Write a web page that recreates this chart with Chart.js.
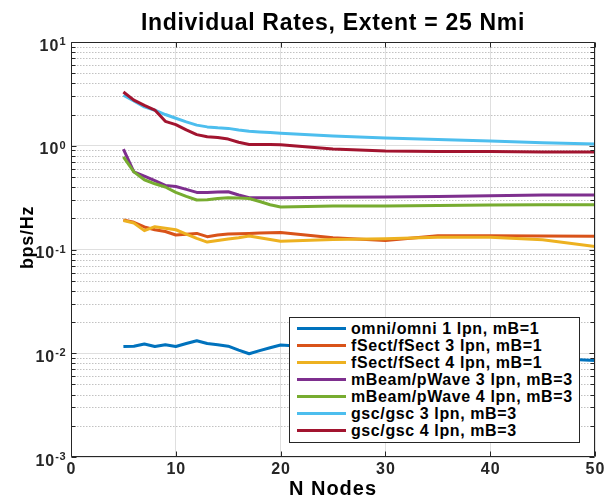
<!DOCTYPE html>
<html>
<head>
<meta charset="utf-8">
<title>Individual Rates</title>
<script src="https://cdn.jsdelivr.net/npm/chart.js@4.4.1/dist/chart.umd.min.js"></script>
<style>
  body { margin: 0; background: #fff; }
  #wrap { position: relative; width: 605px; height: 495px; }
  #legend {
    position: absolute; left: 289px; top: 317px; width: 291px; height: 126px;
    box-sizing: border-box; border: 1px solid #262626; background: #fff;
    padding-top: 2px;
    font: bold 16px "Liberation Sans", Arial, sans-serif; letter-spacing: 0.6px; color: #000;
  }
  #legend .row { display: flex; align-items: center; height: 17px; line-height: 17px; white-space: nowrap; }
  #legend .swatch { width: 49px; height: 3px; margin-left: 7px; margin-right: 5px; }
</style>
</head>
<body>
<div id="wrap">
  <canvas id="rates" width="605" height="495"></canvas>
  <div id="legend"></div>
</div>
<script>
// number of nodes on the x axis
const nodes = [5, 6, 7, 8, 9, 10, 11, 12, 13, 14, 15, 16, 17, 18, 19, 20, 25, 30, 35, 40, 45, 50];

// rate per node, bps/Hz
const omniRate    = [0.0116, 0.0117, 0.0123, 0.0116, 0.0121, 0.0116, 0.0124, 0.0132, 0.0124, 0.0121, 0.0117, 0.0107, 0.0099, 0.0106, 0.0113, 0.0120, 0.0112, 0.0105, 0.0100, 0.0095, 0.0090, 0.0085];
const fSect3Rate  = [0.193, 0.183, 0.165, 0.155, 0.149, 0.138, 0.140, 0.143, 0.133, 0.138, 0.141, 0.142, 0.143, 0.144, 0.145, 0.146, 0.130, 0.122, 0.136, 0.136, 0.135, 0.134];
const fSect4Rate  = [0.190, 0.180, 0.152, 0.166, 0.160, 0.155, 0.141, 0.128, 0.118, 0.122, 0.126, 0.130, 0.135, 0.130, 0.125, 0.120, 0.125, 0.127, 0.131, 0.131, 0.124, 0.107];
const mBeam3Rate  = [0.93, 0.56, 0.51, 0.46, 0.415, 0.405, 0.38, 0.355, 0.355, 0.358, 0.36, 0.335, 0.315, 0.315, 0.315, 0.315, 0.318, 0.32, 0.325, 0.33, 0.335, 0.335];
const mBeam4Rate  = [0.78, 0.56, 0.47, 0.43, 0.40, 0.355, 0.325, 0.30, 0.302, 0.31, 0.315, 0.313, 0.31, 0.29, 0.27, 0.257, 0.262, 0.263, 0.265, 0.268, 0.27, 0.27];
const gsc3Rate    = [3.07, 2.70, 2.37, 2.20, 2.00, 1.84, 1.70, 1.58, 1.52, 1.49, 1.47, 1.42, 1.38, 1.36, 1.34, 1.32, 1.24, 1.19, 1.15, 1.11, 1.07, 1.04];
const gsc4Rate    = [3.30, 2.75, 2.45, 2.21, 1.72, 1.60, 1.42, 1.28, 1.22, 1.20, 1.16, 1.08, 1.03, 1.03, 1.03, 1.02, 0.93, 0.89, 0.88, 0.88, 0.87, 0.87];

const seriesNames = [
  'omni/omni 1 lpn, mB=1',
  'fSect/fSect 3 lpn, mB=1',
  'fSect/fSect 4 lpn, mB=1',
  'mBeam/pWave 3 lpn, mB=3',
  'mBeam/pWave 4 lpn, mB=3',
  'gsc/gsc 3 lpn, mB=3',
  'gsc/gsc 4 lpn, mB=3'
];
const seriesValues = [omniRate, fSect3Rate, fSect4Rate, mBeam3Rate, mBeam4Rate, gsc3Rate, gsc4Rate];
const seriesColors = ['#0072BD', '#D95319', '#EDB120', '#7E2F8E', '#77AC30', '#4DBEEE', '#A2142F'];

const xTicks = [0, 10, 20, 30, 40, 50];
const yTickExponents = [-3, -2, -1, 0, 1];

const FONT = '"Liberation Sans", Arial, sans-serif';
const INK = '#262626';

// axes box, minor grid, tick marks and all text in the MATLAB look
const matlabAxes = {
  id: 'matlabAxes',
  beforeDatasetsDraw(chart) {
    const { ctx, chartArea: a, scales: { y } } = chart;
    ctx.save();
    ctx.strokeStyle = '#c2c2c2';
    ctx.lineWidth = 1;
    ctx.setLineDash([1.5, 1.5]);
    yTickExponents.slice(0, -1).forEach(e => {
      for (let m = 2; m <= 9; m++) {
        const py = Math.round(y.getPixelForValue(m * Math.pow(10, e))) + 0.5;
        ctx.beginPath();
        ctx.moveTo(a.left, py);
        ctx.lineTo(a.right, py);
        ctx.stroke();
      }
    });
    ctx.restore();
  },
  afterDatasetsDraw(chart) {
    const { ctx, chartArea: a, scales: { x, y } } = chart;
    const L = Math.round(a.left) + 0.5, R = Math.round(a.right) - 0.5;
    const T = Math.round(a.top) + 0.5, B = Math.round(a.bottom) - 0.5;
    ctx.save();
    ctx.strokeStyle = INK;
    ctx.lineWidth = 1;
    ctx.beginPath();
    ctx.rect(L, T, R - L, B - T);
    xTicks.forEach(v => {
      const px = Math.round(x.getPixelForValue(v)) + 0.5;
      ctx.moveTo(px, B); ctx.lineTo(px, B - 5);
      ctx.moveTo(px, T); ctx.lineTo(px, T + 5);
    });
    yTickExponents.forEach((e, i) => {
      const last = i === yTickExponents.length - 1;
      for (let m = 1; m <= (last ? 1 : 9); m++) {
        const len = m === 1 ? 5 : 4;
        const py = Math.round(y.getPixelForValue(m * Math.pow(10, e))) + 0.5;
        ctx.moveTo(L, py); ctx.lineTo(L + len, py);
        ctx.moveTo(R, py); ctx.lineTo(R - len, py);
      }
    });
    ctx.stroke();
    ctx.restore();
  },
  afterDraw(chart) {
    const { ctx, chartArea: a, scales: { x, y } } = chart;
    ctx.save();
    ctx.fillStyle = '#000';

    // title
    ctx.letterSpacing = '0.7px';
    ctx.font = 'bold 23px ' + FONT;
    ctx.textAlign = 'center';
    ctx.textBaseline = 'alphabetic';
    ctx.fillText('Individual Rates, Extent = 25 Nmi', (a.left + a.right) / 2, 29.5);

    // x tick labels and axis title
    ctx.fillStyle = INK;
    ctx.letterSpacing = '1px';
    ctx.font = 'bold 16px ' + FONT;
    xTicks.forEach(v => ctx.fillText(String(v), x.getPixelForValue(v) + 0.5, a.bottom + 16.5));
    ctx.fillStyle = '#000';
    ctx.font = 'bold 20px ' + FONT;
    ctx.fillText('N Nodes', (a.left + a.right) / 2, 494.5);

    // y tick labels as 10 with a raised exponent
    ctx.fillStyle = INK;
    ctx.textAlign = 'right';
    yTickExponents.forEach(e => {
      const py = y.getPixelForValue(Math.pow(10, e));
      const exp = String(e);
      ctx.letterSpacing = '0.5px';
      ctx.font = 'bold 11px ' + FONT;
      const ew = ctx.measureText(exp).width;
      ctx.fillText(exp, 66, py + 3);
      ctx.letterSpacing = '1px';
      ctx.font = 'bold 16px ' + FONT;
      ctx.fillText('10', 66 - ew, py + 8.5);
    });

    // y axis title
    ctx.fillStyle = '#000';
    ctx.translate(32.5, (a.top + a.bottom) / 2 - 12);
    ctx.rotate(-Math.PI / 2);
    ctx.textAlign = 'center';
    ctx.letterSpacing = '0.7px';
    ctx.font = 'bold 18px ' + FONT;
    ctx.fillText('bps/Hz', 0, 0);
    ctx.restore();
  }
};

const datasets = seriesValues.map((vals, i) => ({
  label: seriesNames[i],
  data: nodes.map((n, j) => ({ x: n, y: vals[j] })),
  borderColor: seriesColors[i],
  backgroundColor: seriesColors[i],
  borderWidth: 3,
  borderJoinStyle: 'round',
  pointRadius: 0,
  tension: 0,
  fill: false,
  order: -i
}));

const chart = new Chart(document.getElementById('rates'), {
  type: 'line',
  data: { datasets },
  options: {
    responsive: false,
    animation: false,
    layout: { padding: { top: 42, right: 10, left: 0, bottom: 0 } },
    plugins: { legend: { display: false }, tooltip: { enabled: false }, title: { display: false } },
    scales: {
      x: {
        type: 'linear', min: 0, max: 50,
        ticks: { display: false, stepSize: 10 },
        grid: { color: '#dfdfdf', lineWidth: 1, drawTicks: false },
        border: { display: false },
        afterFit: s => { s.height = 38; }
      },
      y: {
        type: 'logarithmic', min: 0.001, max: 10,
        ticks: { display: false },
        afterBuildTicks: s => { s.ticks = yTickExponents.map(e => ({ value: Math.pow(10, e), major: true })); },
        grid: { color: '#dfdfdf', lineWidth: 1, drawTicks: false },
        border: { display: false },
        afterFit: s => { s.width = 71; }
      }
    }
  },
  plugins: [matlabAxes]
});

// legend box drawn over the plot, bottom right
const legendEl = document.getElementById('legend');
chart.data.datasets.forEach(ds => {
  const row = document.createElement('div');
  row.className = 'row';
  const sw = document.createElement('span');
  sw.className = 'swatch';
  sw.style.background = ds.borderColor;
  const txt = document.createElement('span');
  txt.textContent = ds.label;
  row.appendChild(sw);
  row.appendChild(txt);
  legendEl.appendChild(row);
});
</script>
</body>
</html>
